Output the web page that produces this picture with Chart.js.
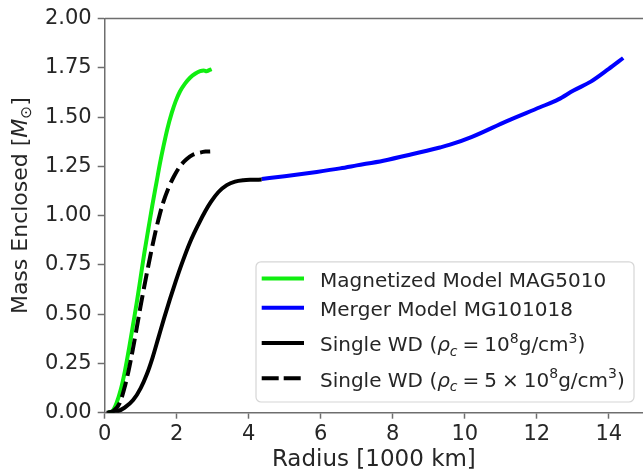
<!DOCTYPE html>
<html><head><meta charset="utf-8">
<script src="https://cdn.jsdelivr.net/npm/chart.js@4.4.1/dist/chart.umd.min.js"></script>
<style>html,body{margin:0;padding:0;background:#fff;}canvas{display:block;}</style>
</head><body>
<canvas id="c" width="643" height="475"></canvas>
<script>
// ---- data (radius in 1000 km, enclosed mass in solar masses) ----
const magR = [0.10,0.22,0.33,0.45,0.56,0.68,0.79,0.90,1.00,1.10,1.21,1.32,1.44,1.54,1.63,1.74,1.86,1.97,2.09,2.23,2.37,2.51,2.65,2.75,2.83,2.90,2.97];
const magM = [0.00,0.01,0.05,0.12,0.21,0.33,0.45,0.57,0.69,0.81,0.93,1.05,1.17,1.27,1.35,1.44,1.52,1.58,1.63,1.67,1.70,1.72,1.733,1.737,1.733,1.738,1.743];

const mergerR = [4.36,5.00,5.89,6.54,7.00,7.74,8.50,9.31,9.59,10.20,11.17,12.09,12.60,13.02,13.50,14.00,14.40];
const mergerM = [1.186,1.20,1.222,1.24,1.255,1.279,1.31,1.346,1.36,1.40,1.48,1.55,1.59,1.635,1.68,1.745,1.80];

const wd1R = [0.05,0.30,0.55,0.79,1.00,1.17,1.33,1.49,1.65,1.81,1.97,2.13,2.37,2.60,2.80,2.95,3.16,3.39,3.62,3.85,4.10,4.36];
const wd1M = [0.000,0.004,0.025,0.064,0.125,0.195,0.28,0.38,0.48,0.575,0.665,0.75,0.865,0.955,1.025,1.07,1.12,1.155,1.173,1.18,1.182,1.183];

const wd5R = [0.10,0.25,0.42,0.54,0.66,0.78,0.89,1.00,1.12,1.26,1.40,1.52,1.63,1.77,1.91,2.09,2.28,2.46,2.65,2.80,2.93];
const wd5M = [0.00,0.01,0.05,0.12,0.21,0.32,0.43,0.545,0.66,0.79,0.91,1.00,1.07,1.14,1.195,1.25,1.287,1.31,1.32,1.325,1.326];

const xTicks = [0,2,4,6,8,10,12,14];
const yTicks = [0,0.25,0.5,0.75,1.0,1.25,1.5,1.75,2.0];

// markup: _x subscript, ^x superscript, ~x italic
const seriesLabels = [
  'Magnetized Model MAG5010',
  'Merger Model MG101018',
  'Single WD (~\u03c1_~c\u2005=\u200510^8g/cm^3)',
  'Single WD (~\u03c1_~c\u2005=\u20055\u2005\u00d7\u200510^8g/cm^3)'
];
const xTitle = 'Radius [1000 km]';
const yTitle = 'Mass Enclosed [~M_\u2299]';

// ---- helpers ----
const FONT = "'DejaVu Sans'";
const TXT = '#262626';
const SPINE = '#6e6e6e';
function pts(xs, ys){ return xs.map((x,i)=>({x:x, y:ys[i]})); }
function parseRich(s){
  const out=[]; let i=0;
  while(i<s.length){
    let mode='n', ital=false;
    if(s[i]==='_'){mode='sub';i++;} else if(s[i]==='^'){mode='sup';i++;}
    if(s[i]==='~'){ital=true;i++;}
    out.push({ch:s[i],mode:mode,ital:ital}); i++;
  }
  return out;
}
function tokFont(t,size){
  const sz = t.mode==='n'? size : size*0.7;
  return (t.ital?'italic ':'') + sz.toFixed(2)+'px '+FONT;
}
function measureRich(ctx,toks,size){
  let w=0; ctx.save();
  toks.forEach(t=>{ctx.font=tokFont(t,size); w+=ctx.measureText(t.ch).width;});
  ctx.restore(); return w;
}
function drawRich(ctx,toks,x,y,size,color){
  ctx.save(); ctx.fillStyle=color; ctx.textBaseline='alphabetic'; ctx.textAlign='left';
  toks.forEach(t=>{
    ctx.font=tokFont(t,size);
    const dy = t.mode==='sup'? -0.42*size : (t.mode==='sub'? 0.22*size : 0);
    ctx.fillText(t.ch,x,y+dy);
    x+=ctx.measureText(t.ch).width;
  });
  ctx.restore(); return x;
}

const styles = [
  {color:'#10ee10', dash:[]},
  {color:'#0000ff', dash:[]},
  {color:'#000000', dash:[]},
  {color:'#000000', dash:[16,6]}
];

const topSpine = {
  id:'topSpine',
  afterDraw(chart){
    const a=chart.chartArea, ctx=chart.ctx;
    ctx.save(); ctx.strokeStyle=SPINE; ctx.lineWidth=1.5;
    ctx.beginPath(); ctx.moveTo(a.left,a.top); ctx.lineTo(a.right,a.top); ctx.stroke();
    ctx.restore();
  }
};
const yTitlePlugin = {
  id:'yTitle',
  afterDraw(chart){
    const a=chart.chartArea, ctx=chart.ctx, size=22;
    const toks=parseRich(yTitle); const w=measureRich(ctx,toks,size);
    ctx.save(); ctx.translate(26.5,(a.top+a.bottom)/2-10); ctx.rotate(-Math.PI/2);
    drawRich(ctx,toks,-w/2,0,size,TXT); ctx.restore();
  }
};
const legendPlugin = {
  id:'mplLegend',
  afterDraw(chart){
    const a=chart.chartArea, ctx=chart.ctx, size=20;
    const toks=seriesLabels.map(parseRich);
    const hasScript=toks.map(t=>t.some(k=>k.mode!=='n'));
    const right=a.right-9, bottom=a.bottom-10.7;
    const base=[]; let b=bottom-15.3;
    for(let i=toks.length-1;i>=0;i--){ base[i]=b; b-= 29.3 + (hasScript[i]?6:0); }
    const top=base[0]-25;
    const left=right-378;
    ctx.save();
    ctx.beginPath(); ctx.roundRect(left,top,right-left,bottom-top,5);
    ctx.fillStyle='rgba(255,255,255,0.85)'; ctx.fill();
    ctx.strokeStyle='#d6d6d6'; ctx.lineWidth=1.2; ctx.stroke();
    toks.forEach((t,i)=>{
      const hy=base[i]-8.4;
      ctx.save(); ctx.strokeStyle=styles[i].color; ctx.lineWidth=4; ctx.lineCap='butt';
      ctx.setLineDash(styles[i].dash.length? [17,5]:[]);
      ctx.beginPath(); ctx.moveTo(left+5.7,hy); ctx.lineTo(left+48,hy); ctx.stroke(); ctx.restore();
      drawRich(ctx,t,left+64,base[i],size,TXT);
    });
    ctx.restore();
  }
};

const dsR=[magR,mergerR,wd1R,wd5R], dsM=[magM,mergerM,wd1M,wd5M], orders=[4,3,2,1];
const datasets = dsR.map((r,i)=>({
  label: seriesLabels[i],
  data: pts(r,dsM[i]),
  showLine:true, pointRadius:0, pointHoverRadius:0,
  borderColor:styles[i].color, backgroundColor:styles[i].color,
  borderWidth:4, borderDash:styles[i].dash, order:orders[i],
  cubicInterpolationMode:'monotone', borderCapStyle:'butt', borderJoinStyle:'round'
}));

const tickFont={family:FONT,size:21};
new Chart(document.getElementById('c').getContext('2d'),{
  type:'scatter',
  data:{datasets:datasets},
  options:{
    responsive:false, animation:false, devicePixelRatio:1,
    layout:{padding:{top:17.5,right:0,left:0,bottom:0}},
    plugins:{legend:{display:false},tooltip:{enabled:false}},
    scales:{
      x:{type:'linear',min:0,max:14.95,
        afterBuildTicks(s){s.ticks=xTicks.map(v=>({value:v}));},
        afterFit(s){s.height=62.3;},
        grid:{display:true,drawOnChartArea:false,drawTicks:true,tickLength:6,color:SPINE,tickWidth:1.5},
        border:{display:true,color:SPINE,width:1.5},
        ticks:{font:tickFont,color:TXT,padding:3,maxRotation:0,autoSkip:false,callback:v=>String(v)},
        title:{display:true,text:xTitle,font:{family:FONT,size:23},color:TXT,padding:{top:0,bottom:1}}
      },
      y:{type:'linear',min:0,max:2,
        afterBuildTicks(s){s.ticks=yTicks.map(v=>({value:v}));},
        afterFit(s){s.width=104.7;},
        grid:{display:true,drawOnChartArea:false,drawTicks:true,tickLength:7,color:SPINE,tickWidth:1.5},
        border:{display:true,color:SPINE,width:1.5},
        ticks:{font:tickFont,color:TXT,padding:6,autoSkip:false,callback:v=>v.toFixed(2)}
      }
    }
  },
  plugins:[topSpine,yTitlePlugin,legendPlugin]
});
</script>
</body></html>
